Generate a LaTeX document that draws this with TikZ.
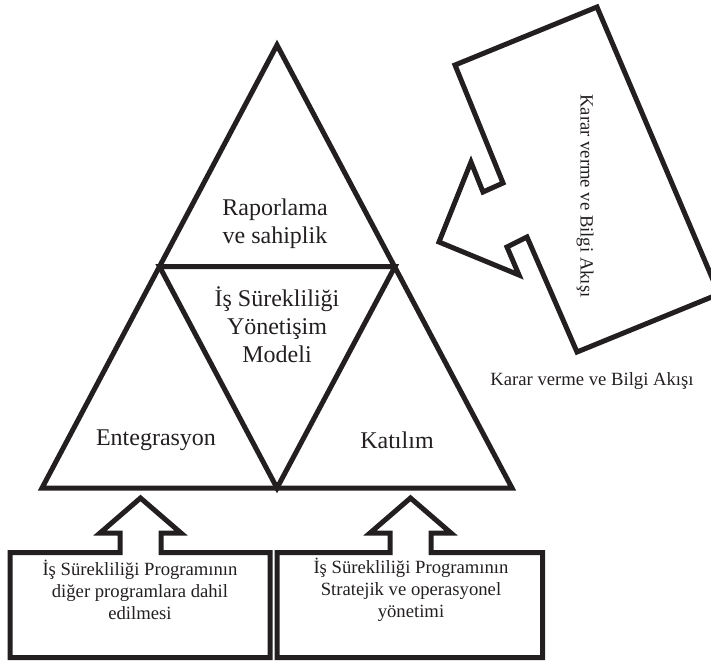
\documentclass[tikz,border=0pt]{standalone}
\usepackage{fontspec}
\setmainfont{Liberation Serif}
\definecolor{ink}{HTML}{231F20}
\begin{document}
\begin{tikzpicture}[x=0.75pt,y=-0.75pt,
  outline/.style={draw=ink,line width=3.75pt,line join=miter,miter limit=10},
  bigtxt/.style={font=\fontsize{18}{21}\selectfont,align=center,text=ink,inner sep=0pt},
  smalltxt/.style={font=\fontsize{14}{16.3}\selectfont,align=center,text=ink,inner sep=0pt}]
\useasboundingbox (0,0) rectangle (711,662);
% triangle vertices
\coordinate (apex) at (277,45);
\coordinate (bl) at (42,488);
\coordinate (br) at (512,488);
\coordinate (ml) at (159.5,266.5);
\coordinate (mr) at (395,266.5);
\coordinate (bm) at (277,488);
\draw[outline] (apex) -- (br) -- (bl) -- cycle;
\draw[outline] (ml) -- (mr) -- (bm) -- cycle;
\node[bigtxt] (rap) at (275,224) {Raporlama\\ve sahiplik};
\node[bigtxt] (model) at (277,325) {İş Sürekliliği\\Yönetişim\\Modeli};
\node[bigtxt] (ent) at (156,440) {Entegrasyon};
\node[bigtxt] (kat) at (397,440) {Katılım};
% upper right arrow box
\draw[outline] (597,7) -- (719,294) -- (577,352) -- (527,237) -- (507,247) -- (519,275)
  -- (439,242) -- (471,162) -- (483,192) -- (503,183) -- (455,65) -- cycle;
\node[smalltxt,rotate=-90] (flowv) at (585,196) {Karar verme ve Bilgi Akışı};
\node[smalltxt] (flowh) at (592,381) {Karar verme ve Bilgi Akışı};
% lower left box with arrow
\draw[outline] (120,552.5) -- (10,552.5) -- (10,657.5) -- (270,657.5) -- (270,552.5)
  -- (161,552.5) -- (161,533) -- (181,533) -- (140.5,498) -- (100,533) -- (120,533) -- cycle;
\node[smalltxt] (boxl) at (140,590) {İş Sürekliliği Programının\\diğer programlara dahil\\edilmesi};
% lower right box with arrow
\draw[outline] (390,552.5) -- (277,552.5) -- (277,657.5) -- (542.5,657.5) -- (542.5,552.5)
  -- (431,552.5) -- (431,533) -- (451,533) -- (410.5,498) -- (370,533) -- (390,533) -- cycle;
\node[smalltxt] (boxr) at (411,590) {İş Sürekliliği Programının\\Stratejik ve operasyonel\\yönetimi};
\end{tikzpicture}
\end{document}
